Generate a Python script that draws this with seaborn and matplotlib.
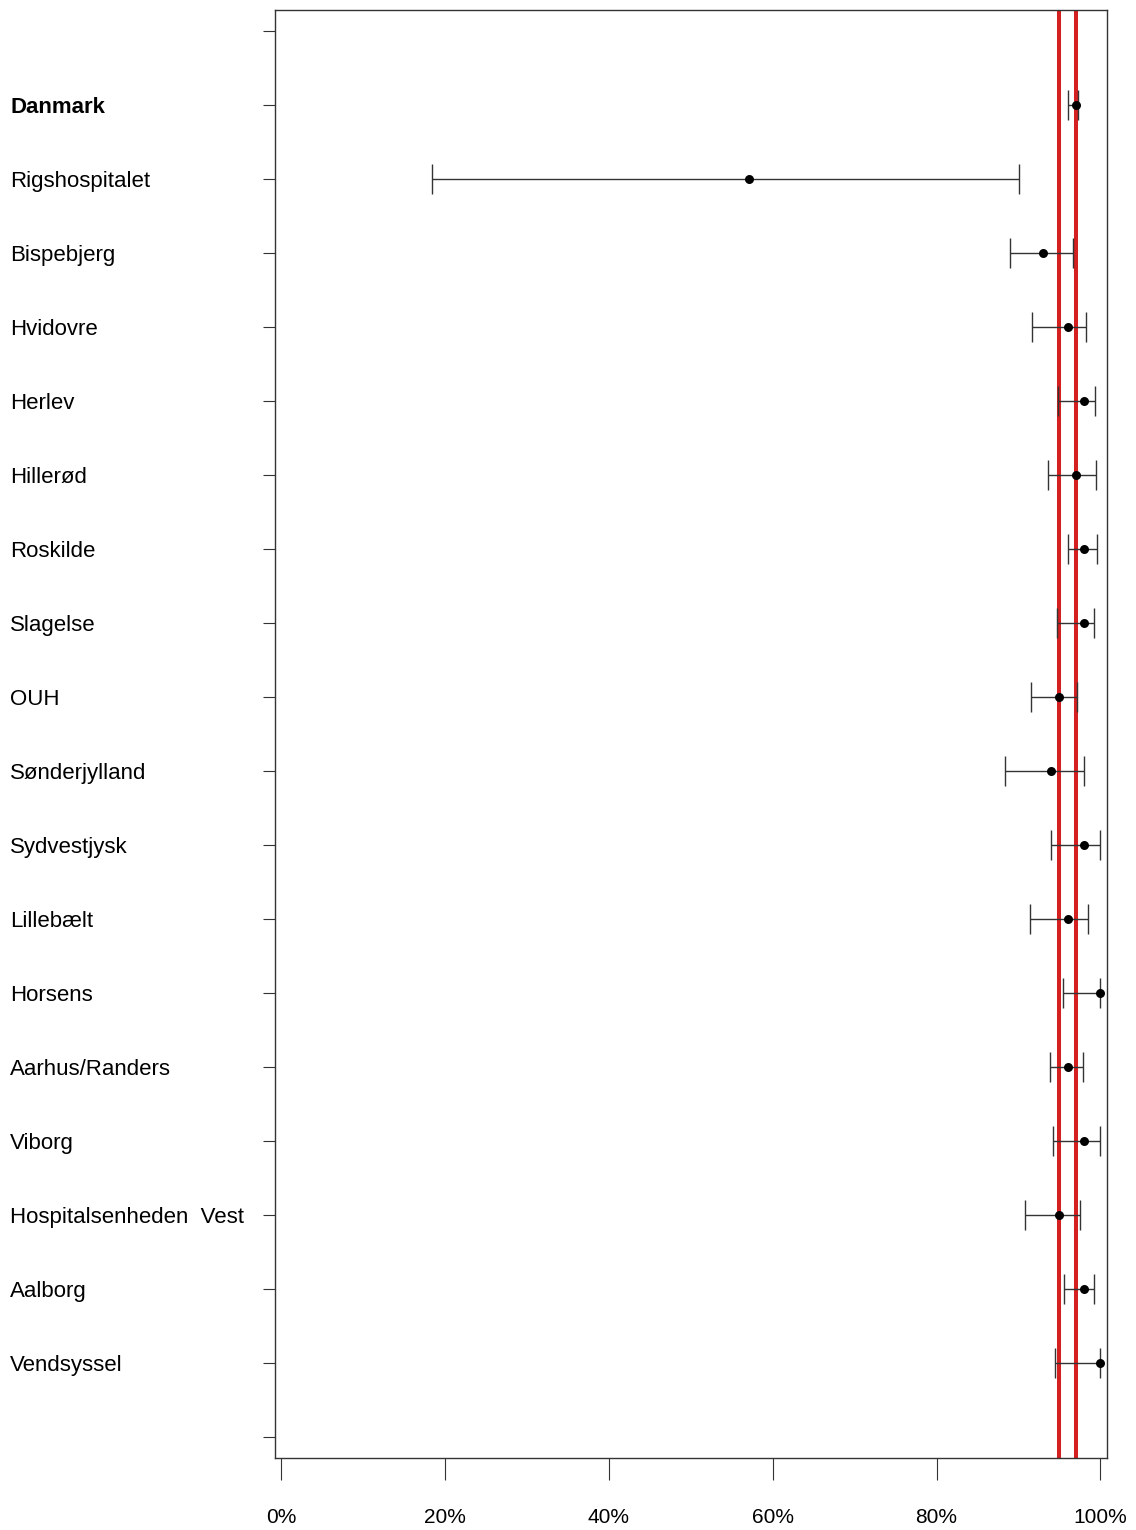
import numpy as np
import pandas as pd
import matplotlib
matplotlib.use("Agg")
import matplotlib.pyplot as plt
import seaborn as sns

# ---- Dados (andel i %, med 95% konfidensinterval) ----
hospitals = ["Danmark", "Rigshospitalet", "Bispebjerg", "Hvidovre", "Herlev",
             "Hillerød", "Roskilde", "Slagelse", "OUH", "Sønderjylland",
             "Sydvestjysk", "Lillebælt", "Horsens", "Aarhus/Randers", "Viborg",
             "Hospitalsenheden  Vest", "Aalborg", "Vendsyssel"]
estimate = [97.0, 57.1, 93.0, 96.0, 98.0, 97.0, 98.0, 98.0, 95.0, 94.0,
            98.0, 96.0, 100.0, 96.0, 98.0, 95.0, 98.0, 100.0]
ci_low = [96.0, 18.4, 88.9, 91.6, 94.8, 93.6, 96.1, 94.7, 91.5, 88.3,
          94.0, 91.4, 95.4, 93.8, 94.2, 90.8, 95.5, 94.5]
ci_high = [97.3, 90.1, 96.7, 98.2, 99.3, 99.4, 99.6, 99.2, 97.1, 98.0,
           99.9, 98.5, 100.0, 97.9, 99.9, 97.5, 99.2, 100.0]
ref_lines = [95.0, 97.0]
x_ticks = [0, 20, 40, 60, 80, 100]

df = pd.DataFrame({"hospital": hospitals, "est": estimate,
                   "lo": ci_low, "hi": ci_high})
df["pos"] = np.arange(1, len(df) + 1)

sns.set_style("white", {"xtick.bottom": True, "ytick.left": True,
                        "text.color": "black", "xtick.color": "black",
                        "ytick.color": "black"})
plt.rcParams["font.family"] = ["Liberation Sans", "DejaVu Sans"]

fig = plt.figure(figsize=(11.36, 15.30), dpi=100)
ax = fig.add_axes([275 / 1136, 1 - 1458 / 1530, 832 / 1136, 1448 / 1530])

# referencelinjer
for v in ref_lines:
    ax.axvline(v, color="#d42020", lw=2.9, zorder=1)

# konfidensintervaller
ax.errorbar(df["est"], df["pos"],
            xerr=[df["est"] - df["lo"], df["hi"] - df["est"]],
            fmt="none", ecolor="#333333", elinewidth=1.0,
            capsize=11, capthick=1.0, zorder=2)

sns.scatterplot(data=df, x="est", y="pos", color="black", s=42,
                edgecolor="black", linewidth=0, ax=ax, zorder=3, legend=False)

ax.set_xlim(-0.75, 100.8)
ax.set_ylim(19.28, -0.28)

# y-akse: tomme ticks i toppen og bunden
ax.set_yticks(np.arange(0, len(df) + 2))
ax.set_yticklabels([""] + hospitals + [""], fontsize=16, ha="left", color="black")
ax.tick_params(axis="y", left=True, length=8.6, width=0.8, pad=182, color="#333333")
for lab in ax.get_yticklabels():
    if lab.get_text() == "Danmark":
        lab.set_fontweight("bold")

ax.set_xticks(x_ticks)
ax.set_xticklabels([f"{t}%" for t in x_ticks], fontsize=15, color="black")
ax.tick_params(axis="x", bottom=True, length=16, width=0.8, pad=20, color="#333333")

ax.set_xlabel("")
ax.set_ylabel("")
for s in ax.spines.values():
    s.set_color("#333333")
    s.set_linewidth(1.0)

fig.savefig("out.png", dpi=100)
